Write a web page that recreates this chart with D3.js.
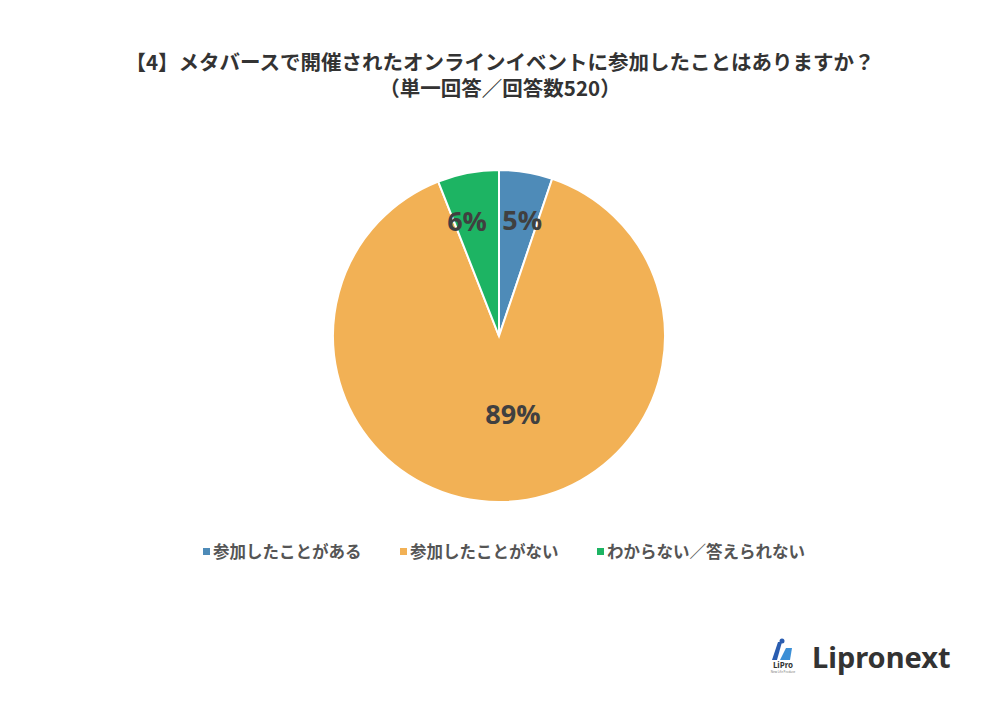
<!DOCTYPE html>
<html><head><meta charset="utf-8">
<script src="https://cdn.jsdelivr.net/npm/d3@7"></script>
<style>body{margin:0;background:#fff;}svg{display:block;font-family:"Noto Sans CJK JP","Noto Sans",sans-serif;}</style>
</head><body>
<svg id="c" width="1000" height="707"></svg>
<script>
const categories = ["参加したことがある", "参加したことがない", "わからない／答えられない"];
const counts = [27, 462, 31];
const pctLabels = ["5%", "89%", "6%"];
const colors = ["#4E8BB8", "#F2B155", "#1DB463"];
const titleLines = ["【4】メタバースで開催されたオンラインイベントに参加したことはありますか？", "（単一回答／回答数520）"];

const svg = d3.select("#c");
svg.append("rect").attr("width",1000).attr("height",707).attr("fill","#fff");

svg.selectAll("text.title").data(titleLines).enter().append("text")
  .attr("class","title")
  .attr("x",500).attr("y",(d,i)=>70+i*26)
  .attr("text-anchor","middle").attr("font-size",20.5).attr("font-weight","bold")
  .attr("fill","#333").text(d=>d);

const cx=499, cy=336, R=166;
const pie = d3.pie().sort(null).value(d=>d);
const arcs = pie(counts);
const arc = d3.arc().innerRadius(0).outerRadius(R);
const g = svg.append("g").attr("transform",`translate(${cx},${cy})`);
g.selectAll("path").data(arcs).enter().append("path")
  .attr("d",arc).attr("fill",(d,i)=>colors[i])
  .attr("stroke","#fff").attr("stroke-width",2);

const labelR = [118, 78, 118];
const nudge = [[4,0],[12,0],[-10,0]];
g.selectAll("text.lbl").data(arcs).enter().append("text")
  .attr("class","lbl")
  .attr("transform",(d,i)=>{
    const c = d3.arc().innerRadius(labelR[i]).outerRadius(labelR[i]).centroid(d);
    return `translate(${c[0]+nudge[i][0]},${c[1]+nudge[i][1]})`;
  })
  .attr("text-anchor","middle").attr("dominant-baseline","central")
  .attr("font-family","'Open Sans','Noto Sans',sans-serif")
  .attr("font-size",27).attr("font-weight","bold").attr("fill","#404040")
  .text((d,i)=>pctLabels[i]);

const legX = [203, 400, 597];
const lg = svg.append("g");
categories.forEach((c,i)=>{
  lg.append("rect").attr("x",legX[i]).attr("y",548).attr("width",7).attr("height",7).attr("fill",colors[i]);
  lg.append("text").attr("x",legX[i]+10).attr("y",558).attr("font-size",16.5).attr("font-weight","bold")
    .attr("fill","#555").text(c);
});

// logo
const logo = svg.append("g");
logo.append("text").attr("x",812).attr("y",668).attr("font-family","'Noto Sans',sans-serif")
  .attr("font-size",29).attr("font-weight","bold").attr("fill","#333").text("Lipronext");
logo.append("path").attr("d","M772,660 L778,642 L782,642 L777,660 Z").attr("fill","#2a5db0");
logo.append("circle").attr("cx",782).attr("cy",641).attr("r",2.5).attr("fill","#2a5db0");
logo.append("path").attr("d","M780,660 L786,648 L792,648 L790,660 Z").attr("fill","#3b8fd6");
logo.append("text").attr("x",783).attr("y",668).attr("text-anchor","middle")
  .attr("font-family","'Noto Sans',sans-serif").attr("font-size",8).attr("font-weight","bold").attr("fill","#333").text("LiPro");
logo.append("text").attr("x",783).attr("y",673).attr("text-anchor","middle")
  .attr("font-family","'Noto Sans',sans-serif").attr("font-size",3).attr("fill","#777").text("New Life Produce");
</script>
</body></html>
